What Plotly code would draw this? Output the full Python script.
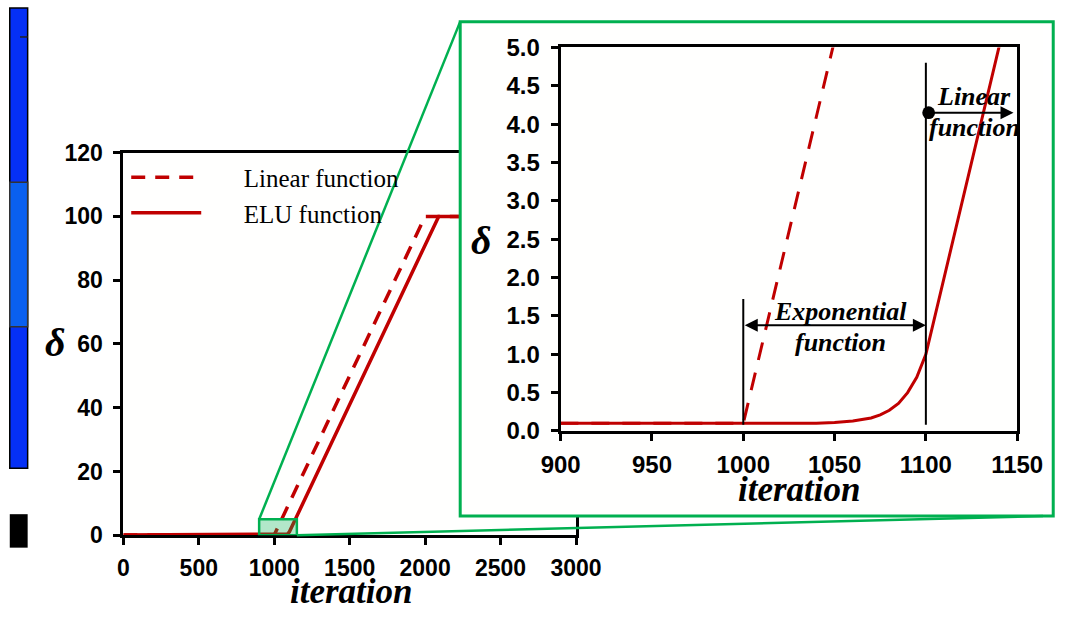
import plotly.graph_objects as go

# --- data -------------------------------------------------------------
iteration_linear = [0, 1000, 2000, 3000]
delta_linear = [0.1, 0.1, 100, 100]

iteration_elu = [0, 1000, 1040, 1050, 1060, 1070, 1075, 1080, 1085, 1090, 1095, 1100, 2090, 3000]
delta_elu = [0.1, 0.1, 0.1, 0.11, 0.13, 0.17, 0.21, 0.27, 0.36, 0.5, 0.7, 1.0, 100, 100]

series_names = ["Linear function", "ELU function"]

main_x_ticks = [0, 500, 1000, 1500, 2000, 2500, 3000]
main_y_ticks = [0, 20, 40, 60, 80, 100, 120]
inset_x_ticks = [900, 950, 1000, 1050, 1100, 1150]
inset_y_ticks = [0.0, 0.5, 1.0, 1.5, 2.0, 2.5, 3.0, 3.5, 4.0, 4.5, 5.0]

zoom_x = [900, 1150]
zoom_y = [0, 5]

# --- style ------------------------------------------------------------
W, H = 1069, 619
RED = "#C00000"
GREEN = "#00B050"
SANS = "Liberation Sans"
SERIF = "Liberation Serif"

MAIN_XD = [108 / W, 581 / W]
MAIN_YD = [1 - 545 / H, 1 - 145 / H]
FRAME_XD = [460 / W, 1.0]
FRAME_YD = [1 - 525 / H, 1 - 8 / H]
INSET_XD = [565 / W, 1042 / W]
INSET_YD = [1 - 436 / H, 1 - 35 / H]
MAIN_XR = [0, 3000]
MAIN_YR = [0, 120]


def to_paper(xv, yv):
    px = MAIN_XD[0] + (xv - MAIN_XR[0]) / (MAIN_XR[1] - MAIN_XR[0]) * (MAIN_XD[1] - MAIN_XD[0])
    py = MAIN_YD[0] + (yv - MAIN_YR[0]) / (MAIN_YR[1] - MAIN_YR[0]) * (MAIN_YD[1] - MAIN_YD[0])
    return px, py


def axis_style(font_size):
    return dict(
        showline=True, linecolor="black", linewidth=3, mirror=True,
        ticks="outside", ticklen=7, tickwidth=3, tickcolor="black",
        showgrid=False, zeroline=False, fixedrange=True,
        tickfont=dict(family=SANS, size=font_size, color="black", weight=700),
    )


fig = go.Figure()

# main plot
pad = "\u00a0" * 6
fig.add_trace(go.Scatter(
    x=iteration_linear, y=delta_linear, mode="lines", name=pad + series_names[0],
    line=dict(color=RED, width=3.5, dash="14px,10px"), xaxis="x", yaxis="y",
))
fig.add_trace(go.Scatter(
    x=iteration_elu, y=delta_elu, mode="lines", name=pad + series_names[1],
    line=dict(color=RED, width=3.5), xaxis="x", yaxis="y",
))

# white panel behind the magnified view
fig.add_trace(go.Scatter(x=[], y=[], xaxis="x2", yaxis="y2", showlegend=False, hoverinfo="skip"))

# magnified view
fig.add_trace(go.Scatter(
    x=iteration_linear, y=delta_linear, mode="lines", showlegend=False,
    line=dict(color=RED, width=3, dash="18px,13px"), xaxis="x3", yaxis="y3",
))
fig.add_trace(go.Scatter(
    x=iteration_elu, y=delta_elu, mode="lines", showlegend=False,
    line=dict(color=RED, width=3), xaxis="x3", yaxis="y3",
))

hidden_axis = dict(visible=False, range=[0, 1], fixedrange=True, showgrid=False, zeroline=False)

fig.update_layout(
    width=W, height=H,
    margin=dict(l=0, r=0, t=0, b=0),
    paper_bgcolor="white",
    plot_bgcolor="rgb(255,255,254)",
    xaxis=dict(domain=MAIN_XD, range=MAIN_XR, tickvals=main_x_ticks, anchor="y",
               ticklabelstandoff=3, **axis_style(23)),
    yaxis=dict(domain=MAIN_YD, range=MAIN_YR, tickvals=main_y_ticks, anchor="x",
               ticklabelstandoff=6, **axis_style(23)),
    xaxis2=dict(domain=FRAME_XD, anchor="y2", **hidden_axis),
    yaxis2=dict(domain=FRAME_YD, anchor="x2", **hidden_axis),
    xaxis3=dict(domain=INSET_XD, range=[900, 1150], tickvals=inset_x_ticks, anchor="y3",
                ticklabelstandoff=3, **axis_style(24)),
    yaxis3=dict(domain=INSET_YD, range=[0, 5], tickvals=inset_y_ticks,
                ticktext=[f"{v:.1f}" for v in inset_y_ticks], anchor="x3",
                ticklabelstandoff=6, **axis_style(24)),
    legend=dict(
        x=111 / W, y=1 - 147 / H, xanchor="left", yanchor="top",
        bgcolor="rgba(0,0,0,0)", font=dict(family=SERIF, size=25, color="black"),
        itemwidth=70, tracegroupgap=0,
    ),
    showlegend=True,
)

# zoom box and connector lines
bx0, by0 = to_paper(zoom_x[0], zoom_y[0])
bx1, by1 = to_paper(zoom_x[1], zoom_y[1])
shapes = [
    dict(type="rect", xref="x", yref="y", x0=zoom_x[0], x1=zoom_x[1], y0=zoom_y[0], y1=zoom_y[1],
         fillcolor="rgba(0,176,80,0.3)", line=dict(color=GREEN, width=2.5), layer="above"),
    dict(type="line", xref="paper", yref="paper", x0=bx0, y0=by1, x1=FRAME_XD[0], y1=FRAME_YD[1],
         line=dict(color=GREEN, width=2.5), layer="above"),
    dict(type="line", xref="paper", yref="paper", x0=bx1, y0=by0, x1=1.0, y1=FRAME_YD[0],
         line=dict(color=GREEN, width=2.5), layer="above"),
    dict(type="rect", xref="paper", yref="paper", x0=FRAME_XD[0], x1=1.01, y0=FRAME_YD[0], y1=FRAME_YD[1],
         line=dict(color=GREEN, width=3), fillcolor="rgba(0,0,0,0)", layer="above"),
    # region markers in the magnified view
    dict(type="line", xref="x3", yref="y3", x0=1000, x1=1000, y0=0.08, y1=1.72,
         line=dict(color="black", width=2), layer="above"),
    dict(type="line", xref="x3", yref="y3", x0=1100, x1=1100, y0=0.08, y1=4.8,
         line=dict(color="black", width=2), layer="above"),
    # neighbouring panel edge on the left
    dict(type="rect", xref="paper", yref="paper", x0=-0.01, x1=8 / W, y0=1 - 475 / H, y1=1.01,
         fillcolor="#0530F5", line=dict(color="black", width=1.5), layer="above"),
    dict(type="rect", xref="paper", yref="paper", x0=-0.01, x1=8 / W, y0=1 - 327 / H, y1=1 - 176 / H,
         fillcolor="#0A60F0", line=dict(color="#333333", width=1.5), layer="above"),
    dict(type="line", xref="paper", yref="paper", x0=0, x1=8 / W, y0=1 - 24 / H, y1=1 - 24 / H,
         line=dict(color="#222222", width=1.5), layer="above"),
    dict(type="rect", xref="paper", yref="paper", x0=-0.01, x1=8 / W, y0=1 - 558 / H, y1=1 - 523 / H,
         fillcolor="black", line=dict(width=0), layer="above"),
]
fig.update_layout(shapes=shapes)

title_font = dict(family=SERIF, size=35, color="black", weight=700, style="italic")
delta_font = dict(family=SERIF, size=40, color="black", weight=700, style="italic")
label_font = dict(family=SERIF, size=26, color="black", weight=700, style="italic")


def paper_text(text, xpx, ypx, font):
    return dict(text=text, xref="paper", yref="paper", x=xpx / W, y=1 - ypx / H,
                xanchor="center", yanchor="middle", showarrow=False, font=font)


def inset_text(text, xv, yv):
    return dict(text=text, xref="x3", yref="y3", x=xv, y=yv,
                xanchor="center", yanchor="middle", showarrow=False, font=label_font)


annotations = [
    # axis titles
    paper_text("δ", 37, 343, delta_font),
    paper_text("iteration", 346, 604, title_font),
    paper_text("δ", 482, 237, delta_font),
    paper_text("iteration", 815, 497, title_font),
    # exponential region
    dict(x=1100, y=1.38, ax=1000, ay=1.38, xref="x3", yref="y3", axref="x3", ayref="y3",
         text="", showarrow=True, arrowside="end+start", arrowhead=2, startarrowhead=2,
         arrowwidth=2, arrowsize=1.3, startarrowsize=1.3, arrowcolor="black"),
    inset_text("Exponential", 1053, 1.56),
    inset_text("function", 1053, 1.16),
    # linear region
    dict(x=1148, y=4.15, ax=1100.7, ay=4.15, xref="x3", yref="y3", axref="x3", ayref="y3",
         text="", showarrow=True, arrowside="end+start", arrowhead=2, startarrowhead=6,
         arrowwidth=2, arrowsize=1.3, startarrowsize=1.6, arrowcolor="black"),
    inset_text("Linear", 1126.4, 4.36),
    inset_text("function", 1126.4, 3.96),
]
fig.update_layout(annotations=annotations)

fig.write_html("out.html")
